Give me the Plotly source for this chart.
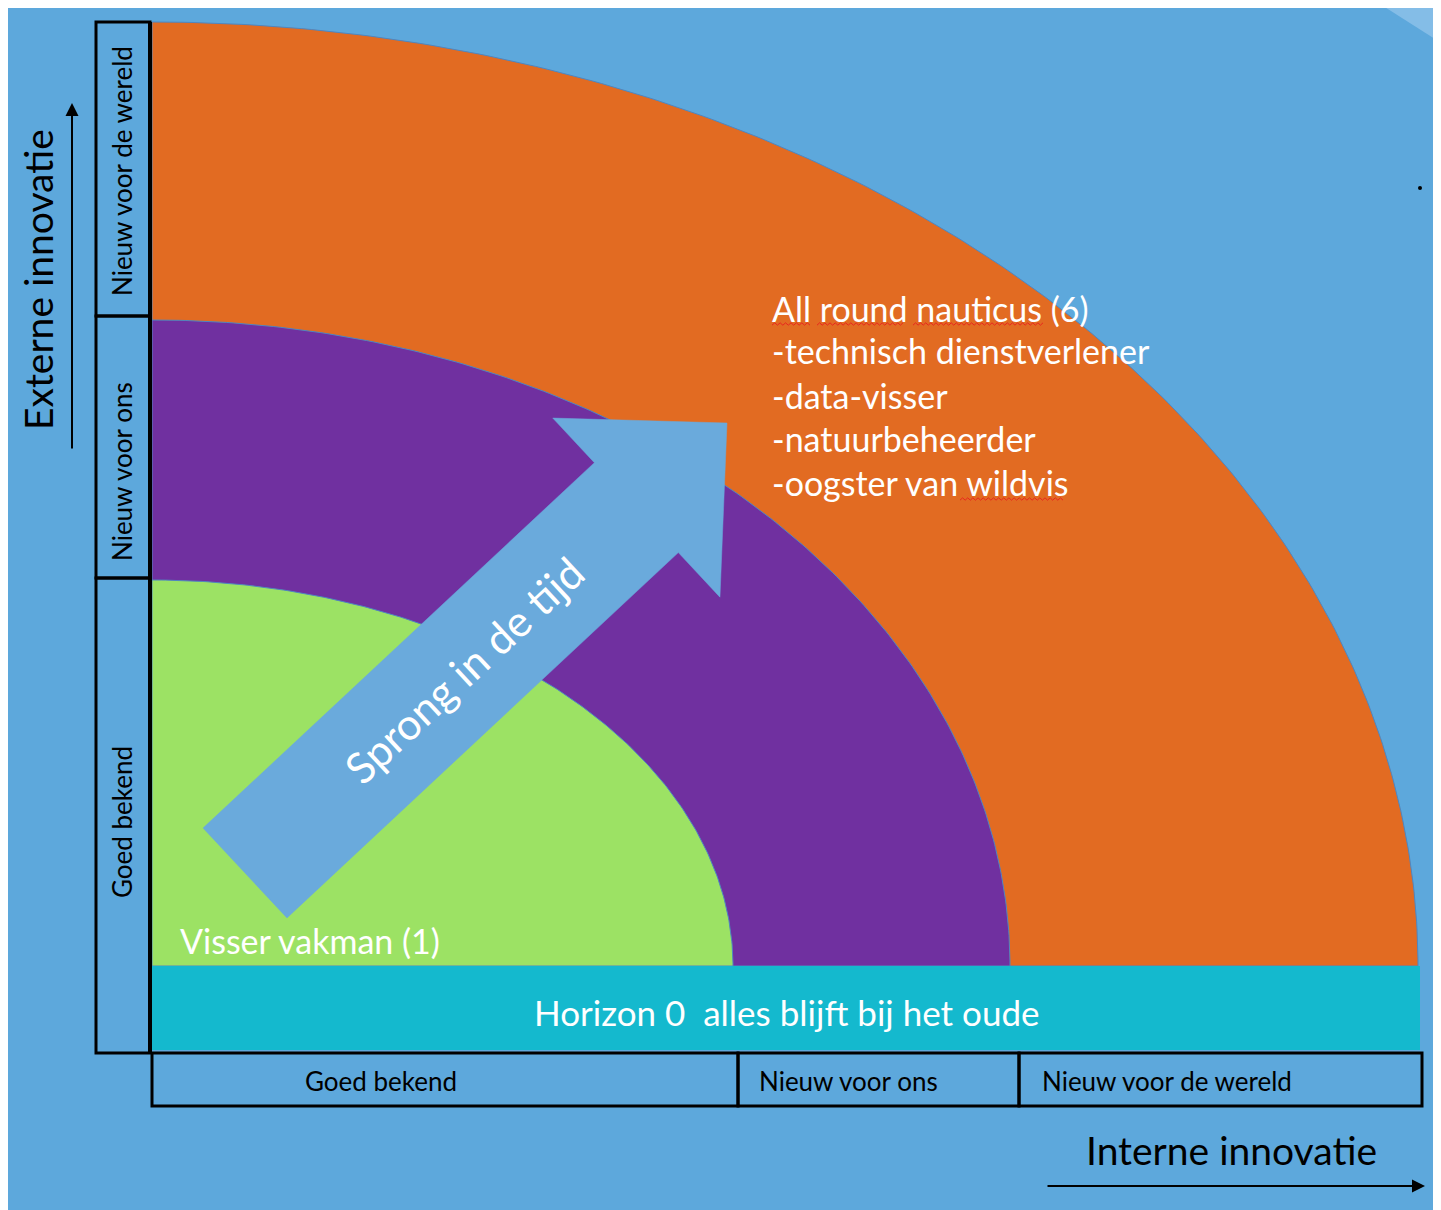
import numpy as np
import plotly.graph_objects as go

# ---------------- data ----------------
internal_levels = ["Goed bekend", "Nieuw voor ons", "Nieuw voor de wereld"]
internal_edges = [0, 586, 867, 1270]
external_levels = ["Goed bekend", "Nieuw voor ons", "Nieuw voor de wereld"]
external_edges = [-87, 388, 650, 944]

ring_names = ["Horizon 3", "Horizon 2", "Horizon 1"]
ring_rx = [1266, 858, 581]
ring_ry = [944, 646, 386]
ring_colors = ["#E26B22", "#7030A0", "#9CE264"]

horizon0_label = "Horizon 0  alles blijft bij het oude"
horizon0_depth = 84

start_role = "Visser vakman (1)"
end_role_lines = ["All round nauticus (6)", "-technisch dienstverlener", "-data-visser",
                  "-natuurbeheerder", "-oogster van wildvis"]

leap_label = "Sprong in de tijd"
leap_from = (93, 93)
leap_to = (575, 543)

x_title = "Interne innovatie"
y_title = "Externe innovatie"

# ---------------- style ----------------
BG = "#5DA8DC"
ARROW_BLUE = "#6AAADC"
CYAN = "#14B9CE"
FONT = "Lato"

fig = go.Figure()

# rings (quarter ellipses)
theta = np.linspace(0, np.pi / 2, 200)
for name, rx, ry, col in zip(ring_names, ring_rx, ring_ry, ring_colors):
    xs = np.concatenate([[0], rx * np.cos(theta), [0]])
    ys = np.concatenate([[0], ry * np.sin(theta), [0]])
    fig.add_trace(go.Scatter(x=xs, y=ys, mode="lines", fill="toself", fillcolor=col,
                             line=dict(color="#4F86C0", width=1), name=name,
                             hoverinfo="skip", showlegend=False))

# leap arrow
fx, fy = leap_from
tx, ty = leap_to
d = np.array([tx - fx, ty - fy], float)
u = d / np.linalg.norm(d)
n = np.array([-u[1], u[0]])
w, h, hl = 61.5, 122.5, 124
f = np.array([fx, fy], float)
t = np.array([tx, ty], float)
neck = t - u * hl
pts = [f + n * w, neck + n * w, neck + n * h, t, neck - n * h, neck - n * w, f - n * w, f + n * w]
fig.add_trace(go.Scatter(x=[p[0] for p in pts], y=[p[1] for p in pts], mode="lines",
                         fill="toself", fillcolor=ARROW_BLUE, line=dict(color=ARROW_BLUE, width=0.5),
                         hoverinfo="skip", showlegend=False))

# spell-check squiggles
squiggles = [((620, 658), 642), ((665, 751), 642), ((761, 891), 642), ((808, 911), 467)]
for (x0, x1), yy in squiggles:
    xs = np.linspace(x0, x1, int((x1 - x0) / 2.5))
    fig.add_trace(go.Scatter(x=xs, y=yy + 1.2 * ((np.arange(len(xs)) % 2) * 2 - 1), mode="lines",
                             line=dict(color="#E8261F", width=1), hoverinfo="skip", showlegend=False))

shapes = []
# light corner
shapes.append(dict(type="path", path="M 1228 962 L 1300 962 L 1300 916 Z", fillcolor="#84BDE7",
                   line_width=0, layer="below"))
# horizon 0 band
shapes.append(dict(type="rect", x0=0, x1=internal_edges[-1] - 2, y0=-horizon0_depth, y1=0,
                   fillcolor=CYAN, line_width=0, layer="above"))
# left category boxes
for i in range(3):
    shapes.append(dict(type="rect", x0=-56, x1=-2, y0=external_edges[i], y1=external_edges[i + 1],
                       line=dict(color="black", width=3), fillcolor="rgba(0,0,0,0)", layer="above"))
# bottom category boxes
for i in range(3):
    shapes.append(dict(type="rect", x0=internal_edges[i], x1=internal_edges[i + 1], y0=-140, y1=-87,
                       line=dict(color="black", width=3), fillcolor="rgba(0,0,0,0)", layer="above"))
# thick vertical axis line
shapes.append(dict(type="line", x0=-2, x1=-2, y0=-87, y1=944, line=dict(color="black", width=4), layer="above"))
# dot
shapes.append(dict(type="circle", x0=1266, x1=1270, y0=776, y1=780, fillcolor="black", line_width=0))

ann = []
def txt(x, y, s, size, color="white", angle=0, xanchor="center"):
    ann.append(dict(x=x, y=y, text=s, showarrow=False, textangle=angle, xanchor=xanchor,
                    yanchor="middle", font=dict(family=FONT, size=size, color=color)))

txt(635, -46, horizon0_label, 35)
txt(26, 26, start_role, 34, xanchor="left")
line_y = [658, 616, 571, 528, 484]
for s, yy in zip(end_role_lines, line_y):
    txt(618, yy, s, 34, xanchor="left")
txt(311, 296, leap_label, 43, angle=-43)

left_label_y = [144, 494, 795]
for s, yy in zip(external_levels, left_label_y):
    txt(-30, yy, s, 26, color="black", angle=-90)
txt(229, -115, internal_levels[0], 26, color="black")
txt(605, -115, internal_levels[1], 26, color="black", xanchor="left")
txt(888, -115, internal_levels[2], 26, color="black", xanchor="left")

txt(-114, 686, y_title, 39, color="black", angle=-90)
txt(1079, -184, x_title, 39, color="black")

# axis arrows
ann.append(dict(x=-80, y=863, ax=-80, ay=516, xref="x", yref="y", axref="x", ayref="y", text="",
                showarrow=True, arrowhead=2, arrowsize=1.3, arrowwidth=2, arrowcolor="black"))
ann.append(dict(x=1273, y=-220, ax=894, ay=-220, xref="x", yref="y", axref="x", ayref="y", text="",
                showarrow=True, arrowhead=2, arrowsize=1.3, arrowwidth=2, arrowcolor="black"))

fig.update_layout(
    width=1441, height=1202, margin=dict(l=0, r=0, t=0, b=0),
    paper_bgcolor=BG, plot_bgcolor=BG,
    xaxis=dict(range=[-144, 1297], visible=False, fixedrange=True),
    yaxis=dict(range=[-244, 958], visible=False, fixedrange=True),
    shapes=shapes, annotations=ann, showlegend=False,
)

fig.write_html("out.html")
